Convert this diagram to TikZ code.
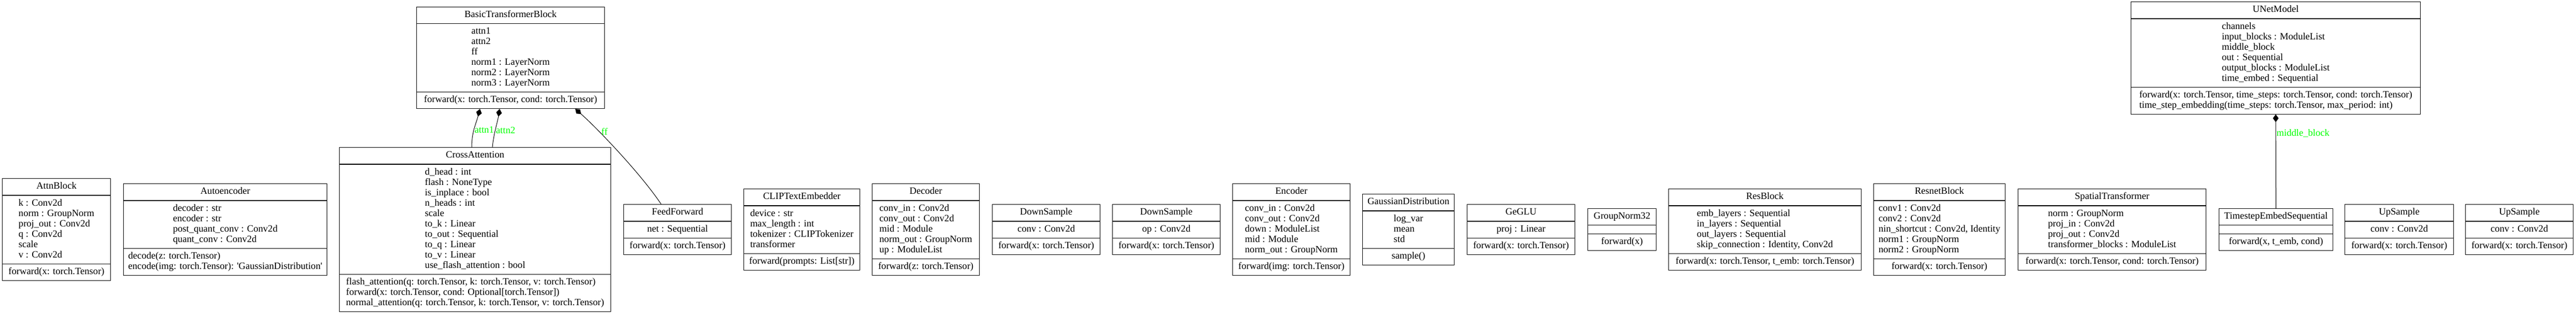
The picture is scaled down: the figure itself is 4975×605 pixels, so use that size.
\documentclass[tikz,border=0pt]{standalone}
\usepackage{fontspec}
\setmainfont{Liberation Serif}
\usetikzlibrary{shapes.multipart,arrows.meta}
\newcommand\umlfont{\fontsize{18.6}{20}\selectfont}
\newcommand\members[1]{\begin{tabular}{@{}l@{}}#1\end{tabular}}
\tikzset{
  umlclass/.style={rectangle split,rectangle split parts=3,draw,line width=1.1pt,
    inner xsep=6pt,inner ysep=5.5pt,anchor=west,font=\umlfont},
  comp/.style={{Diamond[length=15pt,width=11pt]}-,line width=1pt},
  rolelabel/.style={text=green,font=\umlfont,inner sep=1pt,anchor=west}
}

\begin{document}
\begin{tikzpicture}[x=1pt,y=-1pt]
  \useasboundingbox (0,0) rectangle (4975,605);

  % top row
  \node[umlclass,minimum width=363pt] (btb) at (804,111.5) {\members{BasicTransformerBlock}
    \nodepart{two}\members{attn1\\attn2\\ff\\norm1 : LayerNorm\\norm2 : LayerNorm\\norm3 : LayerNorm}
    \nodepart{three}\members{forward(x: torch.Tensor, cond: torch.Tensor)}};
  \node[umlclass,minimum width=559pt] (unet) at (4115,112) {\members{UNetModel}
    \nodepart{two}\members{channels\\input\_blocks : ModuleList\\middle\_block\\out : Sequential\\output\_blocks : ModuleList\\time\_embed : Sequential}
    \nodepart{three}\members{forward(x: torch.Tensor, time\_steps: torch.Tensor, cond: torch.Tensor)\\time\_step\_embedding(time\_steps: torch.Tensor, max\_period: int)}};

  % bottom row
  \node[umlclass,minimum width=209pt] (attn) at (4,443) {\members{AttnBlock}
    \nodepart{two}\members{k : Conv2d\\norm : GroupNorm\\proj\_out : Conv2d\\q : Conv2d\\scale\\v : Conv2d}
    \nodepart{three}\members{forward(x: torch.Tensor)}};
  \node[umlclass,minimum width=393pt] (autoenc) at (238,443) {\members{Autoencoder}
    \nodepart{two}\members{decoder : str\\encoder : str\\post\_quant\_conv : Conv2d\\quant\_conv : Conv2d}
    \nodepart{three}\members{decode(z: torch.Tensor)\\encode(img: torch.Tensor): \textquotesingle GaussianDistribution\textquotesingle}};
  \node[umlclass,minimum width=524pt] (crossattn) at (655,443) {\members{CrossAttention}
    \nodepart{two}\members{d\_head : int\\flash : NoneType\\is\_inplace : bool\\n\_heads : int\\scale\\to\_k : Linear\\to\_out : Sequential\\to\_q : Linear\\to\_v : Linear\\use\_flash\_attention : bool}
    \nodepart{three}\members{flash\_attention(q: torch.Tensor, k: torch.Tensor, v: torch.Tensor)\\forward(x: torch.Tensor, cond: Optional[torch.Tensor])\\normal\_attention(q: torch.Tensor, k: torch.Tensor, v: torch.Tensor)}};
  \node[umlclass,minimum width=208pt] (feedfwd) at (1204,443) {\members{FeedForward}
    \nodepart{two}\members{net : Sequential}
    \nodepart{three}\members{forward(x: torch.Tensor)}};
  \node[umlclass,minimum width=224pt] (clip) at (1436,443) {\members{CLIPTextEmbedder}
    \nodepart{two}\members{device : str\\max\_length : int\\tokenizer : CLIPTokenizer\\transformer}
    \nodepart{three}\members{forward(prompts: List[str])}};
  \node[umlclass,minimum width=207pt] (decoder) at (1684,443) {\members{Decoder}
    \nodepart{two}\members{conv\_in : Conv2d\\conv\_out : Conv2d\\mid : Module\\norm\_out : GroupNorm\\up : ModuleList}
    \nodepart{three}\members{forward(z: torch.Tensor)}};
  \node[umlclass,minimum width=208pt] (down1) at (1916,443) {\members{DownSample}
    \nodepart{two}\members{conv : Conv2d}
    \nodepart{three}\members{forward(x: torch.Tensor)}};
  \node[umlclass,minimum width=208pt] (down2) at (2148,443) {\members{DownSample}
    \nodepart{two}\members{op : Conv2d}
    \nodepart{three}\members{forward(x: torch.Tensor)}};
  \node[umlclass,minimum width=227pt] (encoder) at (2380,443) {\members{Encoder}
    \nodepart{two}\members{conv\_in : Conv2d\\conv\_out : Conv2d\\down : ModuleList\\mid : Module\\norm\_out : GroupNorm}
    \nodepart{three}\members{forward(img: torch.Tensor)}};
  \node[umlclass,minimum width=177pt] (gauss) at (2631,443) {\members{GaussianDistribution}
    \nodepart{two}\members{log\_var\\mean\\std}
    \nodepart{three}\members{sample()}};
  \node[umlclass,minimum width=208pt] (geglu) at (2833,443) {\members{GeGLU}
    \nodepart{two}\members{proj : Linear}
    \nodepart{three}\members{forward(x: torch.Tensor)}};
  \node[umlclass,minimum width=132pt] (gn32) at (3066,443) {\members{GroupNorm32}
    \nodepart{two}\members{}
    \nodepart{three}\members{forward(x)}};
  \node[umlclass,minimum width=372pt] (resblock) at (3222,443) {\members{ResBlock}
    \nodepart{two}\members{emb\_layers : Sequential\\in\_layers : Sequential\\out\_layers : Sequential\\skip\_connection : Identity, Conv2d}
    \nodepart{three}\members{forward(x: torch.Tensor, t\_emb: torch.Tensor)}};
  \node[umlclass,minimum width=254pt] (resnet) at (3618,443) {\members{ResnetBlock}
    \nodepart{two}\members{conv1 : Conv2d\\conv2 : Conv2d\\nin\_shortcut : Conv2d, Identity\\norm1 : GroupNorm\\norm2 : GroupNorm}
    \nodepart{three}\members{forward(x: torch.Tensor)}};
  \node[umlclass,minimum width=363pt] (spatial) at (3897,443) {\members{SpatialTransformer}
    \nodepart{two}\members{norm : GroupNorm\\proj\_in : Conv2d\\proj\_out : Conv2d\\transformer\_blocks : ModuleList}
    \nodepart{three}\members{forward(x: torch.Tensor, cond: torch.Tensor)}};
  \node[umlclass,minimum width=220pt] (tes) at (4285,443) {\members{TimestepEmbedSequential}
    \nodepart{two}\members{}
    \nodepart{three}\members{forward(x, t\_emb, cond)}};
  \node[umlclass,minimum width=210pt] (up1) at (4528,443) {\members{UpSample}
    \nodepart{two}\members{conv : Conv2d}
    \nodepart{three}\members{forward(x: torch.Tensor)}};
  \node[umlclass,minimum width=208pt] (up2) at (4761,443) {\members{UpSample}
    \nodepart{two}\members{conv : Conv2d}
    \nodepart{three}\members{forward(x: torch.Tensor)}};

  % compositions
  \draw[comp] ([xshift=123pt]btb.south west) .. controls +(-8,30) and +(0,-30) ..
    node[rolelabel,pos=0.55] (lattn1) {attn1} ([xshift=256pt]crossattn.north west);
  \draw[comp] ([xshift=161pt]btb.south west) .. controls +(-4,25) and +(2,-25) ..
    node[rolelabel,pos=0.55] (lattn2) {attn2} ([xshift=296pt]crossattn.north west);
  \draw[comp] ([xshift=307pt]btb.south west) .. controls +(40,35) and +(-40,-60) ..
    node[rolelabel,pos=0.3,inner sep=4pt] (lff) {ff} ([xshift=73pt]feedfwd.north west);
  \draw[comp] (unet.south) -- node[rolelabel,pos=0.2] (lmid) {middle\_block} (tes.north);
\end{tikzpicture}
\end{document}
